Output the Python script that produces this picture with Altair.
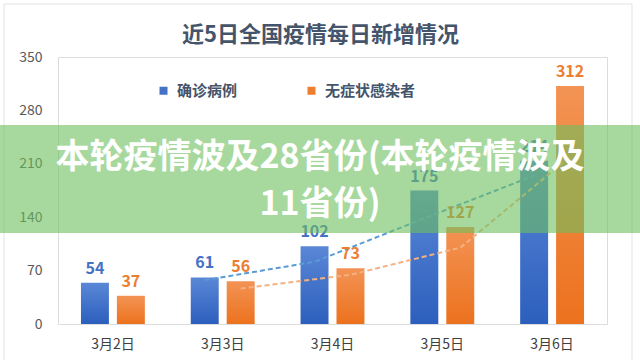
import altair as alt
import pandas as pd

dates = ["3月2日", "3月3日", "3月4日", "3月5日", "3月6日"]
confirmed = [54, 61, 102, 175, 214]
asymptomatic = [37, 56, 73, 127, 312]
series_names = ["确诊病例", "无症状感染者"]
y_ticks = [0, 70, 140, 210, 280, 350]
chart_title = "近5日全国疫情每日新增情况"
overlay_lines = ["本轮疫情波及28省份(本轮疫情波及", "11省份)"]

FONT = "Noto Sans CJK SC"
BLUE = "#4472c4"
ORANGE = "#ed7d31"

rows = []
for i, d in enumerate(dates):
    rows.append({"date": d, "idx": i, "series": series_names[0], "value": confirmed[i]})
    rows.append({"date": d, "idx": i, "series": series_names[1], "value": asymptomatic[i]})
df = pd.DataFrame(rows)

x_enc = alt.X("date:N", sort=dates,
              scale=alt.Scale(domain=dates, paddingInner=0, paddingOuter=0),
              axis=alt.Axis(title=None, labelAngle=0, labelFontSize=14, labelColor="#404040",
                            labelPadding=13, tickSize=0, domain=False, grid=False, labelFont=FONT))
y_enc = alt.Y("value:Q", scale=alt.Scale(domain=[0, 350], nice=False),
              axis=alt.Axis(title=None, values=y_ticks, labelFontSize=14, labelColor="#595959",
                            labelPadding=16, tickSize=0, domain=False, grid=False, labelFont=FONT))
xoff = alt.XOffset("series:N", scale=alt.Scale(domain=series_names, paddingInner=0.222, paddingOuter=0.639))

base = alt.Chart(df)

def grad(top, bottom):
    return alt.Gradient(gradient="linear",
                        stops=[alt.GradientStop(color=top, offset=0), alt.GradientStop(color=bottom, offset=1)],
                        x1=0, x2=0, y1=0, y2=1)

layers = []

one_df = pd.DataFrame({"a": [0]})
# outer frame
layers.append(alt.Chart(one_df).mark_rect(filled=False, stroke="#e3e3e3", strokeWidth=1).encode(
    x=alt.value(-54), x2=alt.value(574), y=alt.value(-53), y2=alt.value(310)))

specs = [
    (series_names[0], grad("#5a87d6", "#2c5fbd"), BLUE, "#5b9bd5", -18),
    (series_names[1], grad("#f39354", "#ec721e"), ORANGE, "#f4b183", 18),
]

for name, g, lab_col, trend_col, off in specs:
    sub = base.transform_filter(alt.datum.series == name)
    layers.append(sub.mark_bar(color=g).encode(x=x_enc, y=y_enc, xOffset=xoff))

for name, g, lab_col, trend_col, off in specs:
    trend = base.transform_filter(alt.datum.series == name).transform_window(
        ma="mean(value)", frame=[-1, 0], sort=[alt.SortField("idx")]
    ).transform_filter("datum.idx >= 1")
    layers.append(trend.mark_line(strokeDash=[5, 3], strokeWidth=2, color=trend_col, xOffset=off).encode(
        x=x_enc, y=alt.Y("ma:Q")))

for name, g, lab_col, trend_col, off in specs:
    sub = base.transform_filter(alt.datum.series == name)
    layers.append(sub.mark_text(font=FONT, fontSize=16, fontWeight="bold", color=lab_col,
                                baseline="bottom", dy=-6).encode(
        x=x_enc, y=y_enc, xOffset=xoff, text="value:Q"))

# legend carrier
layers.append(base.mark_point(shape="square", filled=True, opacity=0, size=0).encode(
    x=x_enc, y=y_enc,
    color=alt.Color("series:N", scale=alt.Scale(domain=series_names, range=[BLUE, ORANGE]),
                    legend=alt.Legend(title=None, orient="none", legendX=98, legendY=26,
                                      direction="horizontal", symbolType="square", symbolSize=64,
                                      symbolOpacity=1, symbolStrokeWidth=0, labelFont=FONT,
                                      labelFontSize=15, labelFontWeight="bold", labelColor="#44546a",
                                      labelOffset=6, columnPadding=66, padding=0))))

# chart title
title_df = pd.DataFrame({"t": [chart_title]})
layers.append(alt.Chart(title_df).mark_text(font=FONT, fontSize=22, fontWeight="bold", color="#44546a",
                                           align="center", baseline="middle").encode(
    x=alt.value(262.5), y=alt.value(-22), text="t:N"))

# green overlay
layers.append(alt.Chart(one_df).mark_rect(color="#6cbf5e", opacity=0.6).encode(
    x=alt.value(-58), x2=alt.value(582), y=alt.value(68), y2=alt.value(176)))

text_df = pd.DataFrame({"t": ["\n".join(overlay_lines)]})
layers.append(alt.Chart(text_df).mark_text(font=FONT, fontSize=34, fontWeight="bold", color="white",
                                          align="center", baseline="middle", lineHeight=47,
                                          lineBreak="\n").encode(
    x=alt.value(262), y=alt.value(101), text="t:N"))

chart = alt.layer(*layers).properties(
    width=549, height=267, autosize="none",
    padding={"left": 58, "top": 57, "right": 33, "bottom": 36},
    background="white",
).configure_view(stroke="#dcdcdc", strokeWidth=1)

chart.save("out.html", embed_options={"renderer": "svg", "actions": False})
